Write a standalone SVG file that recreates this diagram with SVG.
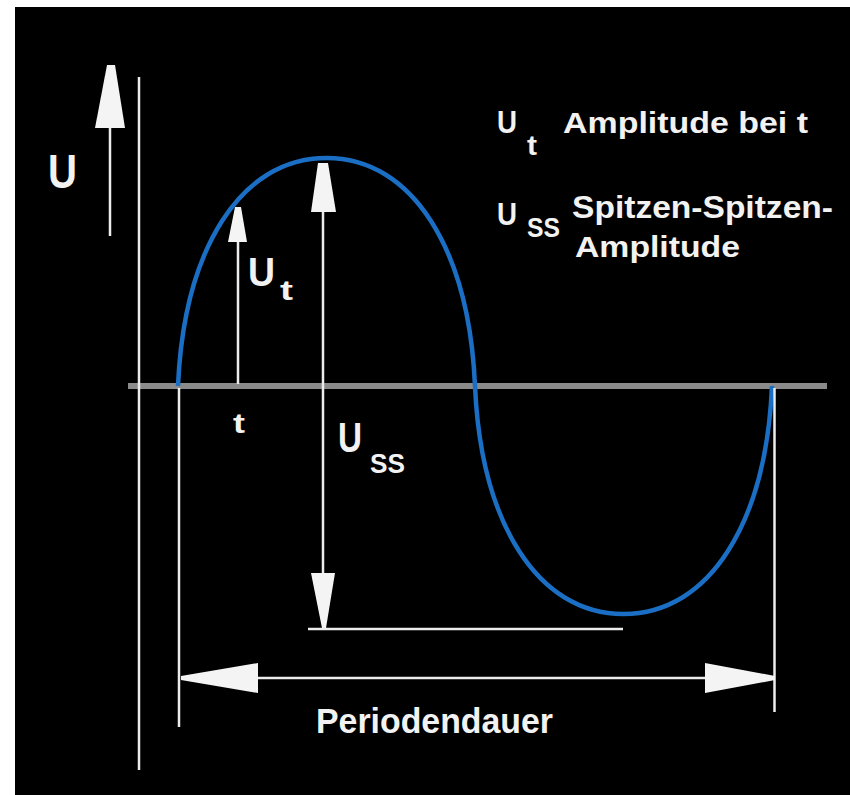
<svg xmlns="http://www.w3.org/2000/svg" width="850" height="795" viewBox="0 0 850 795">
<style>
.ln{stroke:#ececec;stroke-width:2.5;fill:none}
.hd{fill:#f4f4f4;stroke:none}
.tx{font-family:"Liberation Sans",Arial,sans-serif;font-weight:bold;fill:#f2f2f2}
</style>
<rect x="0" y="0" width="850" height="795" fill="#ffffff"/>
<rect x="15" y="7" width="835" height="788" fill="#000000"/>
<g id="baseline"><line x1="128" y1="386" x2="827" y2="386" stroke="#8a8a8a" stroke-width="6"/></g>
<g id="curve"><path d="M178,386 C184,250 240,158 326.5,158 C413,158 469,250 475,386 C481,522 537,614 623.5,614 C710,614 766,522 772,386" fill="none" stroke="#1a6fc4" stroke-width="4.5"/></g>
<g id="connectors">
<line class="ln" x1="139" y1="77" x2="139" y2="770"/>
<line class="ln" x1="110" y1="126" x2="110" y2="236"/>
<polygon class="hd" points="107,65 115,65 125,128 95,128"/>
<line class="ln" x1="238" y1="240" x2="238" y2="384"/>
<polygon class="hd" points="235,207 241,207 247,242 228,242"/>
<line class="ln" x1="323" y1="210" x2="323" y2="575"/>
<polygon class="hd" points="318,163 328,163 336,212 311,212"/>
<polygon class="hd" points="311,573 335,573 326,628 322,628"/>
<line class="ln" x1="308" y1="629" x2="623" y2="629"/>
<line class="ln" x1="179" y1="388" x2="179" y2="727"/>
<line class="ln" x1="774.5" y1="388" x2="774.5" y2="712"/>
<line class="ln" x1="256" y1="678" x2="707" y2="678"/>
<polygon class="hd" points="181,676 258,663 258,693 181,680"/>
<polygon class="hd" points="705,663 775,676 775,680 705,693"/>
</g>
<g id="label-U"><text class="tx" x="48" y="188" font-size="48" textLength="29" lengthAdjust="spacingAndGlyphs">U</text></g>
<g id="label-Ut">
<text class="tx" x="248" y="286" font-size="40" textLength="27" lengthAdjust="spacingAndGlyphs">U</text>
<text class="tx" x="280" y="300" font-size="27" textLength="13" lengthAdjust="spacingAndGlyphs">t</text>
</g>
<g id="label-t"><text class="tx" x="233" y="433" font-size="27" textLength="12" lengthAdjust="spacingAndGlyphs">t</text></g>
<g id="label-Uss">
<text class="tx" x="338" y="452" font-size="42" textLength="24" lengthAdjust="spacingAndGlyphs">U</text>
<text class="tx" x="370" y="473" font-size="28" textLength="35" lengthAdjust="spacingAndGlyphs">SS</text>
</g>
<g id="legend-Ut">
<text class="tx" x="497" y="133" font-size="32" textLength="20" lengthAdjust="spacingAndGlyphs">U</text>
<text class="tx" x="527" y="155" font-size="27" textLength="10" lengthAdjust="spacingAndGlyphs">t</text>
<text class="tx" x="563" y="133" font-size="29" textLength="245" lengthAdjust="spacingAndGlyphs">Amplitude bei t</text>
</g>
<g id="legend-Uss">
<text class="tx" x="497" y="225" font-size="32" textLength="20" lengthAdjust="spacingAndGlyphs">U</text>
<text class="tx" x="527" y="237" font-size="27" textLength="33" lengthAdjust="spacingAndGlyphs">SS</text>
<text class="tx" x="572" y="218" font-size="31" textLength="261" lengthAdjust="spacingAndGlyphs">Spitzen-Spitzen-</text>
<text class="tx" x="575" y="257" font-size="30" textLength="165" lengthAdjust="spacingAndGlyphs">Amplitude</text>
</g>
<g id="label-period"><text class="tx" x="316" y="733" font-size="35" textLength="237" lengthAdjust="spacingAndGlyphs">Periodendauer</text></g>
</svg>
